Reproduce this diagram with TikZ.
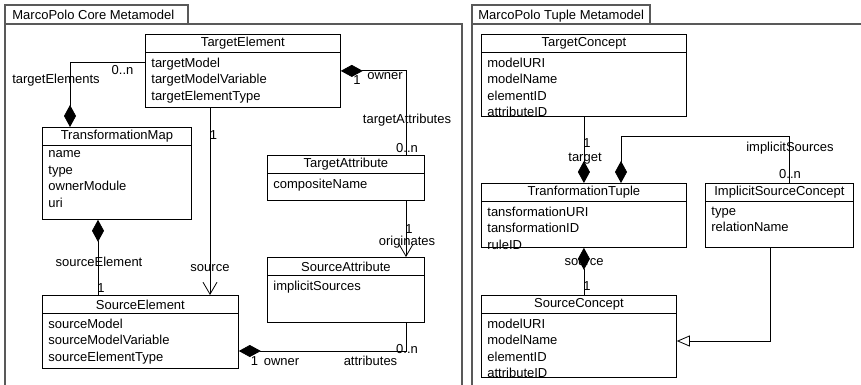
\documentclass[tikz,border=0pt]{standalone}
\usepackage{fontspec}
\setmainfont{Liberation Sans}
\usetikzlibrary{arrows.meta}

\begin{document}
\begin{tikzpicture}
  [x=1pt,y=-1pt,line width=0.8pt,
   every node/.style={font=\fontsize{13}{16.5}\selectfont,inner sep=0pt},
   cls/.style={draw,rectangle,anchor=north west},
   ttl/.style={anchor=north,minimum height=18pt},
   atr/.style={anchor=north west,align=left,inner xsep=6pt,inner ysep=4.5pt,execute at begin node=\rule{0pt}{9.5pt}},
   lbl/.style={anchor=base},
   frame/.style={draw=black!65,line width=1.4pt},
   comp/.style={{Diamond[length=22pt,width=12pt]}-},
   nav/.style={-{Straight Barb[length=12pt,width=14pt]}},
   gen/.style={-{Triangle[open,length=13pt,width=11pt,fill=white]}}]

  \path[use as bounding box,fill=white] (0,0) rectangle (861,385);

  % package frames
  \draw[frame] (5,390) -- (5,5) -- (188,5) -- (188,24) -- (462,24) -- (462,390);
  \draw[frame] (5,24) -- (188,24);
  \node[anchor=base west] (coreTab) at (12,19.5) {MarcoPolo Core Metamodel};
  \draw[frame] (472,390) -- (472,5) -- (650,5) -- (650,24) -- (870,24);
  \draw[frame] (472,24) -- (650,24);
  \node[anchor=base west] (tupleTab) at (478,19.5) {MarcoPolo Tuple Metamodel};

  % core metamodel classes
  \node[cls,minimum width=195pt,minimum height=73pt] (te) at (145,34) {};
  \node[ttl] (teT) at (te.north) {TargetElement};
  \draw (te.west |- teT.south) -- (te.east |- teT.south);
  \node[atr] (teA) at (te.west |- teT.south) {targetModel\\targetModelVariable\\targetElementType};

  \node[cls,minimum width=149pt,minimum height=92pt] (tm) at (42,127) {};
  \node[ttl] (tmT) at (tm.north) {TransformationMap};
  \draw (tm.west |- tmT.south) -- (tm.east |- tmT.south);
  \node[atr] (tmA) at (tm.west |- tmT.south) {name\\type\\ownerModule\\uri};

  \node[cls,minimum width=157pt,minimum height=45pt] (ta) at (267,155) {};
  \node[ttl] (taT) at (ta.north) {TargetAttribute};
  \draw (ta.west |- taT.south) -- (ta.east |- taT.south);
  \node[atr] (taA) at (ta.west |- taT.south) {compositeName};

  \node[cls,minimum width=157pt,minimum height=65pt] (sa) at (267,257) {};
  \node[ttl] (saT) at (sa.north) {SourceAttribute};
  \draw (sa.west |- saT.south) -- (sa.east |- saT.south);
  \node[atr] (saA) at (sa.west |- saT.south) {implicitSources};

  \node[cls,minimum width=196pt,minimum height=73pt] (se) at (42,295) {};
  \node[ttl] (seT) at (se.north) {SourceElement};
  \draw (se.west |- seT.south) -- (se.east |- seT.south);
  \node[atr] (seA) at (se.west |- seT.south) {sourceModel\\sourceModelVariable\\sourceElementType};

  % core metamodel connectors
  \coordinate (c1) at (70,62);
  \draw[comp] (tm.north -| c1) |- (te.west |- c1);
  \coordinate (c2) at (210,0);
  \draw[nav] (te.south -| c2) -- (se.north -| c2);
  \coordinate (c3) at (406,0);
  \draw[comp] (te.east) -| (ta.north -| c3);
  \draw[nav] (ta.south -| c3) -- (sa.north -| c3);
  \coordinate (c4) at (406,351);
  \draw[comp] (se.east |- c4) -| (sa.south -| c4);
  \coordinate (c5) at (98,0);
  \draw[comp] (tm.south -| c5) -- (se.north -| c5);

  \node[lbl] (l1) at (122.5,75) {0..n};
  \node[lbl] (l2) at (56,84) {targetElements};
  \node[lbl] (l3) at (213.5,139.5) {1};
  \node[lbl] (l4) at (357,85) {1};
  \node[lbl] (l5) at (385,80) {owner};
  \node[lbl] (l6) at (407,123.5) {targetAttributes};
  \node[lbl] (l7) at (407,152) {0..n};
  \node[lbl] (l8) at (409,233) {1};
  \node[lbl] (l9) at (407,245) {originates};
  \node[lbl] (l10) at (210,271) {source};
  \node[lbl] (l11) at (99,266) {sourceElement};
  \node[lbl] (l12) at (101,292) {1};
  \node[lbl] (l13) at (254.5,365) {1};
  \node[lbl] (l14) at (281.5,365) {owner};
  \node[lbl] (l15) at (370.5,365) {attributes};
  \node[lbl] (l16) at (407,353) {0..n};

  % tuple metamodel classes
  \node[cls,minimum width=205pt,minimum height=82pt] (tc) at (481,34) {};
  \node[ttl] (tcT) at (tc.north) {TargetConcept};
  \draw (tc.west |- tcT.south) -- (tc.east |- tcT.south);
  \node[atr] (tcA) at (tc.west |- tcT.south) {modelURI\\modelName\\elementID\\attributeID};

  \node[cls,minimum width=205pt,minimum height=64pt] (tt) at (481,183) {};
  \node[ttl] (ttT) at (tt.north) {TranformationTuple};
  \draw (tt.west |- ttT.south) -- (tt.east |- ttT.south);
  \node[atr] (ttA) at (tt.west |- ttT.south) {tansformationURI\\tansformationID\\ruleID};

  \node[cls,minimum width=148pt,minimum height=64pt] (isc) at (705,183) {};
  \node[ttl] (iscT) at (isc.north) {ImplicitSourceConcept};
  \draw (isc.west |- iscT.south) -- (isc.east |- iscT.south);
  \node[atr] (iscA) at (isc.west |- iscT.south) {type\\relationName};

  \node[cls,minimum width=195pt,minimum height=82pt] (sc) at (481,295) {};
  \node[ttl] (scT) at (sc.north) {SourceConcept};
  \draw (sc.west |- scT.south) -- (sc.east |- scT.south);
  \node[atr] (scA) at (sc.west |- scT.south) {modelURI\\modelName\\elementID\\attributeID};

  % tuple metamodel connectors
  \draw[comp] (tt.north) -- (tc.south);
  \coordinate (t1) at (621,136);
  \coordinate (t2) at (789,136);
  \draw[comp] (tt.north -| t1) -- (t1) -- (t2) -- (isc.north -| t2);
  \draw[comp] (tt.south) -- (sc.north -| tt.south);
  \coordinate (t3) at (770,341);
  \draw[gen] (isc.south -| t3) |- (sc.east |- t3);

  \node[lbl] (m1) at (587,147) {1};
  \node[lbl] (m2) at (585,161) {target};
  \node[lbl] (m3) at (790,151) {implicitSources};
  \node[lbl] (m4) at (790,178) {0..n};
  \node[lbl] (m5) at (584,265) {source};
  \node[lbl] (m6) at (587,290) {1};

\end{tikzpicture}
\end{document}
